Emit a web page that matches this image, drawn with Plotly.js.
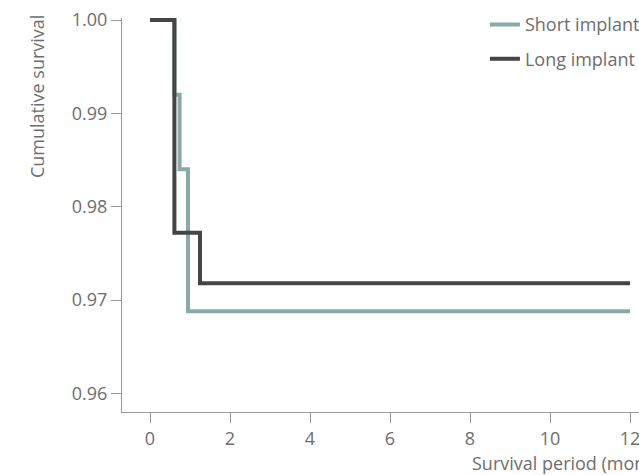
<!DOCTYPE html>
<html>
<head>
<meta charset="utf-8">
<script src="https://cdn.plot.ly/plotly-3.0.1.min.js"></script>
<style>html,body{margin:0;padding:0;overflow:hidden;background:#fff}</style>
</head>
<body>
<div id="chart" style="width:639px;height:475px"></div>
<script>
// Data (months, cumulative survival)
const seriesNames = ["Short implant", "Long implant"];
const shortMonths = [0, 0.61, 0.74, 0.95, 12];
const shortSurvival = [1.0, 0.992, 0.984, 0.9688, 0.9688];
const longMonths = [0, 0.61, 1.25, 12];
const longSurvival = [1.0, 0.9772, 0.9718, 0.9718];
const xTickVals = [0, 2, 4, 6, 8, 10, 12];
const yTickVals = [0.96, 0.97, 0.98, 0.99, 1.00];
const xTitle = "Survival period (months)";
const yTitle = "Cumulative survival";

const textColor = "#6e6e6e";
const font = {family: "Open Sans, sans-serif", size: 18, color: textColor};

const traces = [
  {x: shortMonths, y: shortSurvival, name: seriesNames[0], mode: "lines",
   line: {shape: "hv", color: "#88aba5", width: 4}, legendgroup: "a"},
  {x: longMonths, y: longSurvival, name: seriesNames[1], mode: "lines",
   line: {shape: "hv", color: "#454545", width: 4}, legendgroup: "b"}
];

const layout = {
  width: 639, height: 475,
  margin: {l: 122, r: 0, t: 18, b: 63, autoexpand: false},
  paper_bgcolor: "#fff", plot_bgcolor: "#fff",
  font: font,
  showlegend: true,
  legend: {x: 0.702, y: 1.03, xanchor: "left", yanchor: "top",
           traceorder: "grouped", tracegroupgap: 8,
           bgcolor: "rgba(0,0,0,0)", font: font},
  xaxis: {range: [-0.7, 12.225], tickvals: xTickVals, ticks: "outside",
          ticklen: 10, tickcolor: "#999", showline: true, linecolor: "#999",
          linewidth: 1, showgrid: false, zeroline: false, tickfont: font,
          ticklabeloverflow: "allow"},
  yaxis: {range: [0.958, 1.000214], tickvals: yTickVals, tickformat: ".2f",
          ticks: "outside", ticklen: 10, tickcolor: "#999", showline: true,
          linecolor: "#999", linewidth: 1, showgrid: false, zeroline: false,
          tickfont: font},
  annotations: [
    {text: xTitle, xref: "paper", yref: "paper", x: 0.673, y: -0.13,
     xanchor: "left", yanchor: "middle", showarrow: false, font: font},
    {text: yTitle, xref: "paper", yref: "paper", x: -0.164, y: 0.80,
     xanchor: "center", yanchor: "middle", textangle: -90, showarrow: false, font: font}
  ]
};

Plotly.newPlot("chart", traces, layout, {displayModeBar: false, staticPlot: true});
</script>
</body>
</html>
